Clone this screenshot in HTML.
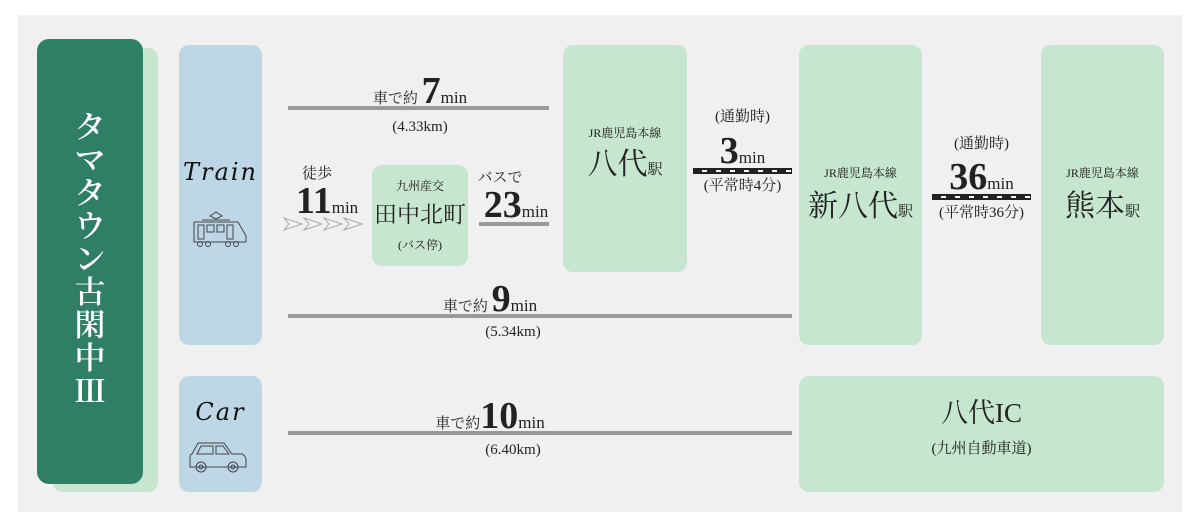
<!DOCTYPE html>
<html><head><meta charset="utf-8"><style>
body{margin:0;width:1200px;height:527px;background:#fff;position:relative;overflow:hidden;font-family:"Liberation Serif","Noto Serif CJK SC",serif;color:#222}
.a{position:absolute}
.bg{left:18px;top:15px;width:1164px;height:497px;background:#f0f0f0}
.r{position:absolute;border-radius:10px}
.t{position:absolute;text-align:center;white-space:nowrap;line-height:1}
.ln{position:absolute;height:4px;background:#9a9a9a}
.rail{position:absolute;height:6px;background:repeating-linear-gradient(90deg,#222 0 9px,#fff 9px 14px);border-top:2px solid #222;border-bottom:2px solid #222;box-sizing:border-box}
.big{font-size:38px;font-weight:bold}
.min{font-size:17px}
.s{font-size:15px}
.xs{font-size:12px}
.script{font-family:"DejaVu Serif",serif;font-style:italic;font-size:24px;color:#111;letter-spacing:2px;font-weight:normal}
</style></head><body>
<div class="a bg"></div>
<div class="r" style="left:53px;top:48px;width:105px;height:444px;background:#c6e6cf"></div>
<div class="r" style="left:37px;top:39px;width:106px;height:445px;background:#2f7f67;border-radius:12px"></div>
<div class="t" style="left:68px;top:108px;width:44px;color:#fff;font-size:31px;line-height:33px;white-space:normal;font-family:'Noto Serif CJK SC',serif;font-weight:600">タ<br>マ<br>タ<br>ウ<br>ン<br>古<br>閑<br>中<br>Ⅲ</div>

<div class="r" style="left:179px;top:45px;width:83px;height:300px;background:#bed7e6"></div>
<div class="r" style="left:179px;top:376px;width:83px;height:116px;background:#bed7e6"></div>
<div class="t script" style="left:168px;top:160px;width:105px">Train</div>
<svg class="a" style="left:190px;top:210px" width="60" height="40" viewBox="0 0 60 40" fill="none" stroke="#444" stroke-width="1">
<path d="M20 6 L26 2 L32 6 L26 9Z"/><line x1="12" y1="10" x2="40" y2="10"/>
<path d="M4 12 H48 L56 26 V32 H4Z"/><rect x="8" y="15" width="6" height="14"/><rect x="17" y="15" width="7" height="7"/><rect x="27" y="15" width="7" height="7"/><rect x="37" y="15" width="6" height="14"/>
<circle cx="10" cy="34" r="2.5"/><circle cx="18" cy="34" r="2.5"/><circle cx="38" cy="34" r="2.5"/><circle cx="46" cy="34" r="2.5"/></svg>
<div class="t script" style="left:168px;top:400px;width:105px">Car</div>
<svg class="a" style="left:186px;top:440px" width="62" height="34" viewBox="0 0 62 34" fill="none" stroke="#444" stroke-width="1">
<path d="M6 14 L12 3 H38 L46 14 H56 Q60 16 60 20 V27 H4 V18 Q4 14 6 14Z"/><path d="M15 6 H27 V14 H11Z M30 6 H37 L43 14 H30Z"/>
<circle cx="15" cy="27" r="5"/><circle cx="15" cy="27" r="2"/><circle cx="47" cy="27" r="5"/><circle cx="47" cy="27" r="2"/></svg>

<div class="r" style="left:563px;top:45px;width:124px;height:227px;background:#c6e6cf"></div>
<div class="r" style="left:799px;top:45px;width:123px;height:300px;background:#c6e6cf"></div>
<div class="r" style="left:1041px;top:45px;width:123px;height:300px;background:#c6e6cf"></div>
<div class="r" style="left:799px;top:376px;width:365px;height:116px;background:#c6e6cf"></div>
<div class="r" style="left:372px;top:165px;width:96px;height:101px;background:#c6e6cf"></div>

<div class="ln" style="left:288px;top:106px;width:261px"></div>
<div class="ln" style="left:479px;top:222px;width:70px"></div>
<div class="ln" style="left:288px;top:314px;width:504px"></div>
<div class="ln" style="left:288px;top:431px;width:504px"></div>
<div class="rail" style="left:693px;top:168px;width:99px"></div>
<div class="rail" style="left:932px;top:194px;width:99px"></div>

<svg class="a" style="left:283px;top:217px" width="84" height="14" viewBox="0 0 84 14" fill="#f4f4f4" stroke="#aaa" stroke-width="1">
<path d="M1 1 L19 7 L1 13 L6 7Z"/><path d="M21 1 L39 7 L21 13 L26 7Z"/><path d="M41 1 L59 7 L41 13 L46 7Z"/><path d="M61 1 L79 7 L61 13 L66 7Z"/></svg>

<div class="t" style="left:340px;top:72px;width:160px"><span class="s">車で約 </span><span class="big"> 7</span><span class="min">min</span></div>
<div class="t s" style="left:340px;top:120px;width:160px">(4.33km)</div>

<div class="t s" style="left:297px;top:167px;width:40px">徒歩</div>
<div class="t" style="left:280px;top:182px;width:94px"><span class="big">11</span><span class="min">min</span></div>
<div class="t xs" style="left:372px;top:180px;width:96px">九州産交</div>
<div class="t" style="left:372px;top:203px;width:96px;font-size:23px">田中北町</div>
<div class="t xs" style="left:372px;top:239px;width:96px">(バス停)</div>
<div class="t s" style="left:470px;top:171px;width:60px">バスで</div>
<div class="t" style="left:474px;top:186px;width:84px"><span class="big">23</span><span class="min">min</span></div>

<div class="t xs" style="left:563px;top:127px;width:124px">JR鹿児島本線</div>
<div class="t" style="left:563px;top:150px;width:124px"><span style="font-size:30px">八代</span><span class="s">駅</span></div>
<div class="t s" style="left:693px;top:110px;width:99px">(通勤時)</div>
<div class="t" style="left:693px;top:132px;width:99px"><span class="big">3</span><span class="min">min</span></div>
<div class="t s" style="left:686px;top:179px;width:113px">(平常時4分)</div>

<div class="t xs" style="left:799px;top:167px;width:123px">JR鹿児島本線</div>
<div class="t" style="left:799px;top:192px;width:123px"><span style="font-size:30px">新八代</span><span class="s">駅</span></div>
<div class="t s" style="left:932px;top:137px;width:99px">(通勤時)</div>
<div class="t" style="left:926px;top:158px;width:111px"><span class="big">36</span><span class="min">min</span></div>
<div class="t s" style="left:922px;top:206px;width:119px">(平常時36分)</div>
<div class="t xs" style="left:1041px;top:167px;width:123px">JR鹿児島本線</div>
<div class="t" style="left:1041px;top:192px;width:123px"><span style="font-size:30px">熊本</span><span class="s">駅</span></div>

<div class="t" style="left:410px;top:280px;width:160px"><span class="s">車で約 </span><span class="big"> 9</span><span class="min">min</span></div>
<div class="t s" style="left:433px;top:325px;width:160px">(5.34km)</div>
<div class="t" style="left:410px;top:397px;width:160px"><span class="s">車で約</span><span class="big">10</span><span class="min">min</span></div>
<div class="t s" style="left:433px;top:443px;width:160px">(6.40km)</div>

<div class="t" style="left:799px;top:400px;width:365px;font-size:27px">八代IC</div>
<div class="t s" style="left:799px;top:442px;width:365px">(九州自動車道)</div>
</body></html>
